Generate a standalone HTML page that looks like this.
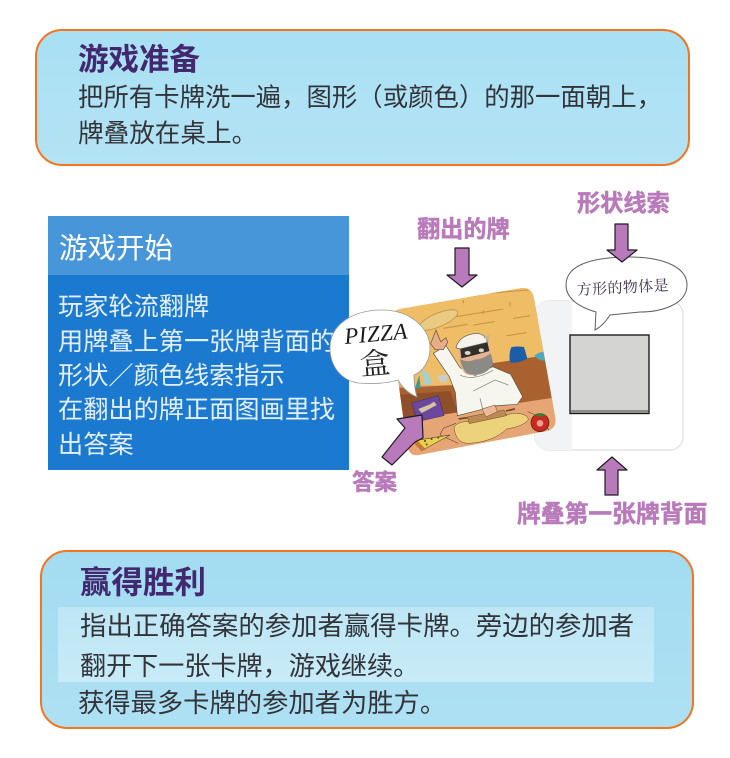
<!DOCTYPE html>
<html lang="zh"><head><meta charset="utf-8"><style>
html,body{margin:0;padding:0;background:#fff}
#p{position:relative;width:730px;height:758px;overflow:hidden;background:#fff;font-family:"Liberation Sans","Noto Sans CJK SC",sans-serif}
.t{position:absolute;white-space:nowrap}
.panel{position:absolute;box-sizing:border-box;border:2px solid #f3751f;border-radius:27px}
.h{color:#42296f;font-weight:700}
.b{color:#33343a}
.w{color:#e4eff9}
.l{color:#b97abb;font-weight:700;-webkit-text-stroke:.5px #b97abb}
svg{position:absolute;left:0;top:0}
</style></head><body><div id="p">
<div class="panel" style="left:35px;top:29px;width:655px;height:137px;background:linear-gradient(#a9e0f4,#b3e3f4)"></div>
<div class="t h" style="left:78px;top:43px;font-size:30.5px;line-height:34px">游戏准备</div>
<div class="t b" style="left:78px;top:81px;font-size:25.4px;line-height:34px">把所有卡牌洗一遍，图形（或颜色）的那一面朝上，</div>
<div class="t b" style="left:78px;top:117px;font-size:25.6px;line-height:34px">牌叠放在桌上。</div>

<div style="position:absolute;left:48px;top:216px;width:301px;height:254px;background:#1b79cf"></div>
<div style="position:absolute;left:48px;top:216px;width:301px;height:59px;background:#4896da"></div>
<div class="t" style="left:59px;top:232px;font-size:28.5px;line-height:34px;color:#fff">游戏开始</div>
<div class="t w" style="left:58px;top:290px;font-size:25.2px;line-height:34px">玩家轮流翻牌</div>
<div class="t w" style="left:58px;top:325px;font-size:25.2px;line-height:34px">用牌叠上第一张牌背面的</div>
<div class="t w" style="left:58px;top:359px;font-size:25.2px;line-height:34px">形状／颜色线索指示</div>
<div class="t w" style="left:58px;top:393px;font-size:25.2px;line-height:34px">在翻出的牌正面图画里找</div>
<div class="t w" style="left:58px;top:428px;font-size:25.2px;line-height:34px">出答案</div>

<div class="panel" style="left:40px;top:550px;width:654px;height:179px;background:linear-gradient(#a3dcf1,#aee0f3)"></div>
<div style="position:absolute;left:58px;top:607px;width:596px;height:75px;background:linear-gradient(#bde6f5,#c8ebf7)"></div>
<div class="t h" style="left:80px;top:565px;font-size:31.5px;line-height:34px">赢得胜利</div>
<div class="t b" style="left:80px;top:609px;font-size:26.4px;line-height:34px">指出正确答案的参加者赢得卡牌。旁边的参加者</div>
<div class="t b" style="left:80px;top:649px;font-size:26.1px;line-height:34px">翻开下一张卡牌，游戏继续。</div>
<div class="t b" style="left:78px;top:686px;font-size:26.3px;line-height:34px">获得最多卡牌的参加者为胜方。</div>

<svg width="730" height="758" viewBox="0 0 730 758">
<defs><clipPath id="c"><path d="M60 72 L420 10 Q455 4 462 40 L526 400 Q530 430 500 438 L115 510 Q90 515 82 485 L30 110 Q28 80 60 72Z"/></clipPath></defs>
<!-- back card -->
<rect x="535" y="301" width="148" height="149" rx="13" fill="#fff" stroke="#dedede" stroke-width="1.2"/>
<path d="M572 301 H548 Q535 301 535 314 V437 Q535 450 548 450 H572Z" fill="#f2f3f4"/>
<rect x="570" y="335" width="79" height="78.5" fill="#d4d5d2" stroke="#1c1c1c" stroke-width="1.4"/>
<path d="M571 410 H648 V413 H571Z" fill="#8d8e8c"/>
<!-- illustration -->
<g transform="translate(380 285) scale(.3333)">
<path d="M60 72 L420 10 Q455 4 462 40 L526 400 Q530 430 500 438 L115 510 Q90 515 82 485 L30 110 Q28 80 60 72Z" fill="#e8a671"/>
<g clip-path="url(#c)">
<rect x="0" y="0" width="540" height="300" fill="#eebd66"/>
<path d="M30 310 L230 300 L300 240 L540 205 V345 L30 430Z" fill="#a9622f"/>
<path d="M50 330 L210 318 L235 385 L60 410Z" fill="#8f4f28"/>
<path d="M0 418 L540 335 V520 H0Z" fill="#e6a574"/>
<g stroke="#c8913f" stroke-width="3" fill="none">
<path d="M170 50 L300 30 M320 25 L445 15 M230 95 L370 72 M190 130 L262 118 M380 152 L440 143 M280 120 L345 110 M400 100 L450 92 M390 50 V65 M250 45 V55 M310 75 V88"/>
</g>
<ellipse cx="175" cy="105" rx="63" ry="20" transform="rotate(-23 175 105)" fill="#eacb83" stroke="#b58b3d" stroke-width="2"/>
<path d="M393 188 Q405 182 432 186 L442 220 Q420 236 390 232 Q386 210 393 188Z" fill="#1c5da8"/>
<path d="M463 212 Q480 198 500 200 V226 Q478 230 463 212Z" fill="#4da7bd"/>
<path d="M105 310 L118 270 L122 310Z" fill="#3d9a93"/>
<path d="M125 258 Q145 250 158 296 Q145 302 132 298Z" fill="#a9cfc6"/>
<path d="M170 272 L205 268 L200 292 L182 292Z" fill="#c9ccc9"/>
<path d="M95 354 L175 332 L192 392 L112 410Z" fill="#6b479f" stroke="#3b2a66" stroke-width="1.5"/>
<path d="M115 372 L150 358 L162 350 L170 360 L148 372 L125 384Z" fill="#d7c79c"/>
<!-- chef -->
<path d="M160 205 L198 182 L240 248 L285 272 L338 245 L392 268 L428 335 L412 358 L350 362 L232 392 L226 322 L208 275Z" fill="#f6f5ee" stroke="#55534a" stroke-width="2"/>
<path d="M280 318 L345 285 L385 300 M300 340 L308 372 M240 270 Q280 290 340 255" stroke="#77766a" stroke-width="2" fill="none"/>
<path d="M233 195 L326 165 L340 232 Q300 285 256 266 Q236 245 233 195Z" fill="#e6b58f"/>
<path d="M240 222 Q262 234 285 224 Q310 222 332 205 L340 236 Q315 280 262 266 Q246 252 240 222Z" fill="#8c8a84"/>
<path d="M240 185 L322 170 L328 198 L292 208 L244 220Z" fill="#333029"/>
<ellipse cx="263" cy="204" rx="9" ry="6" fill="#d9d7c9"/><ellipse cx="304" cy="196" rx="8" ry="6" fill="#d9d7c9"/>
<path d="M228 188 Q238 150 290 145 Q318 148 322 172 L240 192Z" fill="#f5f4ec" stroke="#5b594f" stroke-width="2"/>
<path d="M310 158 L328 148 L326 168Z" fill="#c9b48b"/>
<path d="M168 135 L182 170 L198 158 L203 172 L190 194 L165 194 L152 176Z" fill="#e6ad89" stroke="#6a4a38" stroke-width="2"/>
<!-- dough and pin -->
<path d="M222 428 Q232 405 290 410 L400 385 Q445 385 445 405 Q428 425 380 432 Q340 470 270 475 Q228 478 222 428Z" fill="#edd27c" stroke="#5f4b25" stroke-width="1.5"/>
<path d="M262 396 L372 375 L380 392 L268 416Z" fill="#bc8a55" stroke="#6b4a28" stroke-width="1.5"/>
<path d="M236 402 L262 398 M378 378 L405 372" stroke="#6b4a28" stroke-width="5"/>
<path d="M306 372 L345 360 L352 380 L318 396Z" fill="#ebb898" stroke="#6a4a38" stroke-width="1.5"/>
<path d="M190 430 L228 415 M443 380 L470 392 M500 425 L510 440 M190 430 L180 450 L235 475" stroke="#3a2c1e" stroke-width="1.5" fill="none"/>
<circle cx="480" cy="413" r="27" fill="#c92a1f" stroke="#4d1a12" stroke-width="2"/>
<circle cx="480" cy="415" r="10" fill="#eba08e"/>
<path d="M462 390 L480 396 L498 390 L484 384Z" fill="#3e7d34"/>
<path d="M98 468 L210 450 L125 497Z" fill="#ead04d" stroke="#3a2c1e" stroke-width="1.5"/>
<path d="M98 468 L125 497 L135 490 L108 462Z" fill="#cd7b32"/>
<g fill="#4b4630"><circle cx="135" cy="468" r="3"/><circle cx="155" cy="462" r="3"/><circle cx="175" cy="458" r="3"/><circle cx="140" cy="478" r="3"/></g>
</g>
</g>
<!-- pizza bubble -->
<path d="M330 348 C330 325 352 310 382 310 C410 310 430 328 430 348 C430 362 422 372 414 375 Q414 388 417 397 Q405 392 398 380 C385 384 370 384 358 383 C340 380 330 365 330 348Z" fill="#fff" stroke="#9a9a9a" stroke-width=".8"/>
<!-- speech bubble -->
<path d="M566 285 C566 262 600 257 630 257 C665 257 687 268 687 285 C687 305 660 312 640 312 L610 315 Q603 326 595 330 L596 312 C575 306 566 296 566 285Z" fill="#fff" stroke="#5f5f5f" stroke-width="1"/>
<text x="577" y="295" transform="rotate(-3 577 295)" font-family="'Liberation Serif','Noto Serif CJK SC',serif" font-size="15" fill="#40314f" textLength="92">方形的物体是</text>
<text x="345" y="344" transform="rotate(-5 345 344)" font-family="'Liberation Serif',serif" font-style="italic" font-size="23" fill="#1a1a1a" textLength="63">PIZZA</text>
<text x="361" y="375" transform="rotate(-5 361 375)" font-family="'Liberation Serif','Noto Serif CJK SC',serif" font-size="30" fill="#222">盒</text>
<!-- arrows -->
<g fill="#b97abb" stroke="#1f1a22" stroke-width="1.2" stroke-linejoin="round">
<path d="M455 248 H469 V275 H477 L462 287 L447 275 H455Z"/>
<path d="M615 224 H628 V250 H637 L622 262 L607 250 H615Z"/>
<path d="M605 495 H618 V470 H627 L612 457 L597 470 H605Z"/>
<path d="M382 457 L392 465 L415 442 L423 438 L422 415 L397 419 L405 428Z"/>
</g>
</svg>
<div class="t l" style="left:417px;top:212px;font-size:23.2px;line-height:34px">翻出的牌</div>
<div class="t l" style="left:577px;top:186px;font-size:23.2px;line-height:34px">形状线索</div>
<div class="t l" style="left:352px;top:466px;font-size:22.5px;line-height:34px">答案</div>
<div class="t l" style="left:517px;top:498px;font-size:23.8px;line-height:34px">牌叠第一张牌背面</div>
</div></body></html>
